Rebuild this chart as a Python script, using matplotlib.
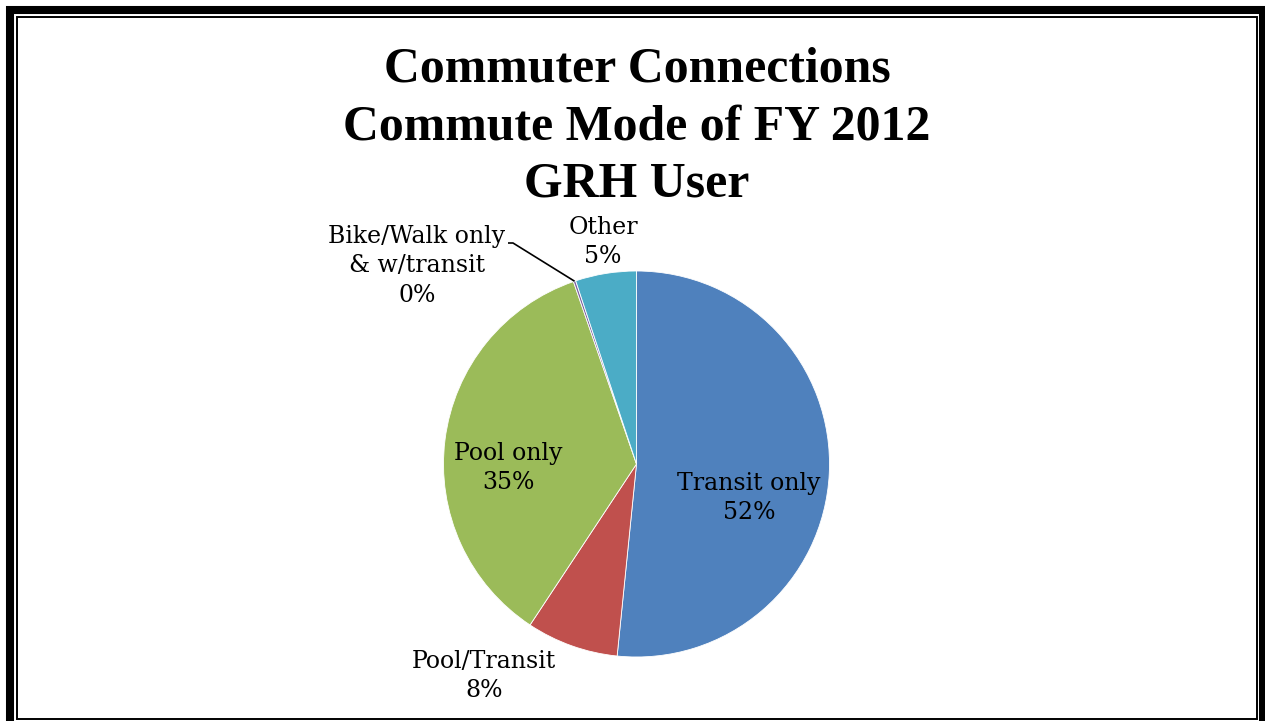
import matplotlib
matplotlib.use("Agg")
import matplotlib.pyplot as plt
from matplotlib.patches import Rectangle
import numpy as np

categories = ["Transit only", "Pool/Transit", "Pool only", "Bike/Walk only\n& w/transit", "Other"]
values = [51.6, 7.7, 35.4, 0.2, 5.1]
colors = ["#4F81BD", "#C0504D", "#9BBB59", "#8064A2", "#4BACC6"]
title = "Commuter Connections\nCommute Mode of FY 2012\nGRH User"

W, H = 1265, 721
fig = plt.figure(figsize=(W / 100, H / 100), dpi=100)
ax = fig.add_axes([0, 0, 1, 1])

cx, cy, r = 636.5, H - 464, 193
wedges, _ = ax.pie(values, colors=colors, startangle=90, counterclock=False,
                   center=(cx, cy), radius=r, frame=True,
                   wedgeprops=dict(edgecolor="white", linewidth=0.6))
ax.set_xlim(0, W)
ax.set_ylim(0, H)
ax.set_aspect("equal")
ax.axis("off")

lab_family = ["DejaVu Serif"]
lab_fs = 17

def label(i):
    pct = f"{round(values[i])}%"
    return f"{categories[i]}\n{pct}"

# label positions (pixel coordinates, y from top)
label_pos = [(749, 498), (484, 676), (508, 468), (417, 266), (603, 242)]
for i, (lx, ly) in enumerate(label_pos):
    ax.text(lx, H - ly, label(i), ha="center", va="center", fontsize=lab_fs,
            family=lab_family, linespacing=1.38)

# leader line for Bike/Walk slice
cum = np.cumsum([0] + values)
frac_mid = (cum[3] + cum[4]) / 2 / cum[-1]
ang = np.deg2rad(90 - 360 * frac_mid)
px, py = cx + r * np.cos(ang), cy + r * np.sin(ang)
ax.plot([px, 513, 508], [py, H - 243, H - 243], color="black", lw=1.2,
        solid_capstyle="butt")

ax.text(637, H - 127, title, ha="center", va="center", fontsize=35.8,
        fontweight="bold", family=["Liberation Serif", "DejaVu Serif"],
        linespacing=1.34)

# double border
fig.patches.append(Rectangle((10 / W, (H - 725) / H), 1253 / W, 715 / H,
                             transform=fig.transFigure, fill=False,
                             edgecolor="black", linewidth=5.8))
fig.patches.append(Rectangle((16.8 / W, (H - 718.5) / H), 1239.8 / W, 701.7 / H,
                             transform=fig.transFigure, fill=False,
                             edgecolor="black", linewidth=1.4))

fig.savefig("out.png", dpi=100)
